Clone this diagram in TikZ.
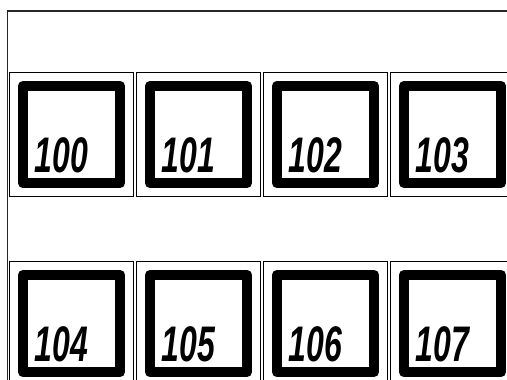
\documentclass[tikz,border=0pt]{standalone}
\usepackage{fontspec}
\setmainfont{Liberation Sans}
\begin{document}
\begin{tikzpicture}[x=1pt,y=-1pt,
  cellbox/.style={draw=black,line width=0.9pt,minimum size=124pt,inner sep=0pt,fill=white},
  sqbox/.style={draw=black,line width=10.5pt,line join=round,minimum size=97pt,inner sep=0pt},
  numlabel/.style={anchor=base west,inner sep=0pt,xscale=0.64,font=\fontsize{50}{50}\selectfont\bfseries\itshape}]
\useasboundingbox (0,0) rectangle (507,380);
\clip (0,0) rectangle (507,380);
\draw[line width=1.2pt,draw=black!85] (7.5,11) rectangle (700,700);
\foreach \r in {0,1}{
  \foreach \c in {0,1,2,3}{
    \pgfmathtruncatemacro{\n}{100+4*\r+\c}
    \node[cellbox] (cell\n) at (71.5+127*\c,134.5+189*\r) {};
    \node[sqbox] (sq\n) at (cell\n.center) {};
    \node[numlabel] (lab\n) at (34.5+127*\c,172+189*\r) {\n};
  }
}
\end{tikzpicture}
\end{document}
